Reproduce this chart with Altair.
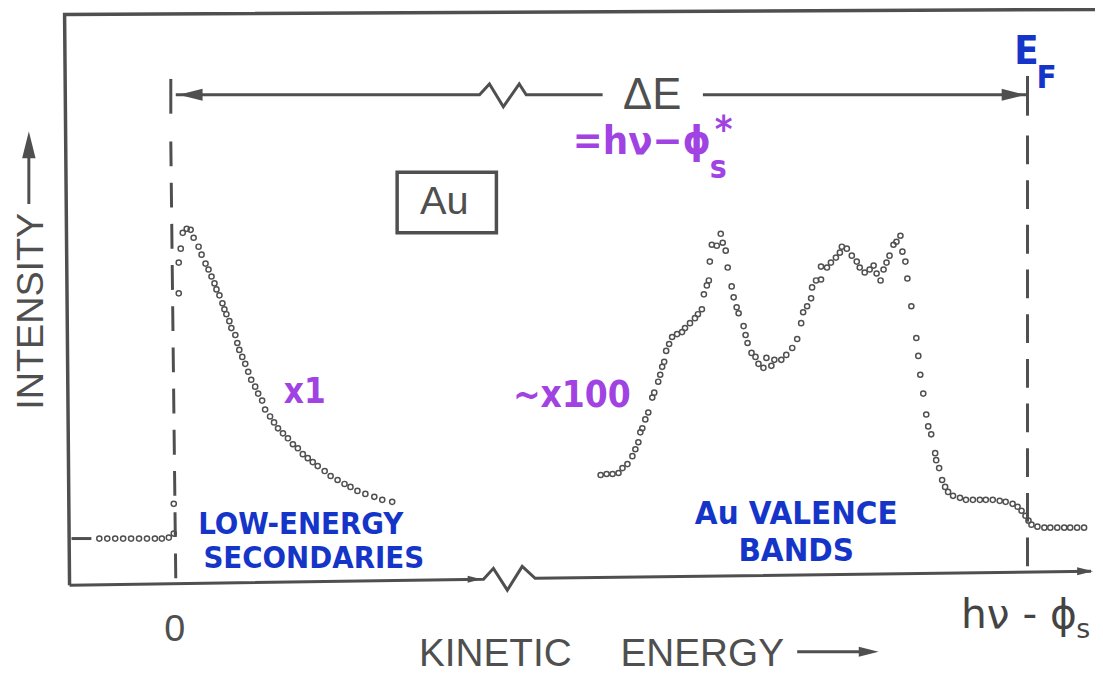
import altair as alt
import pandas as pd

# ---------------- data (E: kinetic energy, arbitrary units, 0 = cutoff, EF at 8.58;
#                         I: intensity, arbitrary units) ----------------
E_F = 8.58

# low-energy secondaries (x1)
sec_E = [-0.77, -0.69, -0.61, -0.53, -0.45, -0.37, -0.29, -0.21, -0.14, -0.07,
         -0.02, -0.02, 0.03, 0.03, 0.05,
         0.07, 0.11, 0.15, 0.18, 0.23, 0.26, 0.30, 0.33, 0.36, 0.39,
         0.41, 0.44, 0.47, 0.49, 0.51, 0.54, 0.56, 0.60, 0.62, 0.64,
         0.67, 0.70, 0.73, 0.76, 0.80, 0.83, 0.87, 0.90, 0.95, 0.99,
         1.03, 1.08, 1.13, 1.18, 1.23, 1.28, 1.33, 1.38, 1.43, 1.50,
         1.56, 1.63, 1.70, 1.76, 1.83, 1.91, 2.00, 2.08, 2.18]
sec_I = [4.0, 4.0, 4.0, 4.0, 4.0, 4.0, 4.0, 4.0, 4.0, 4.1,
         4.5, 7.5, 28.7, 31.8, 33.2,
         34.8, 35.2, 35.1, 34.3, 33.4, 32.6, 31.7, 31.1, 30.4, 29.7,
         29.1, 28.5, 27.7, 27.1, 26.6, 25.9, 25.2, 24.5, 23.7, 23.0,
         22.3, 21.6, 20.8, 20.0, 19.3, 18.6, 17.9, 17.0, 16.3, 15.7,
         15.1, 14.6, 14.1, 13.5, 13.1, 12.5, 12.1, 11.7, 11.3, 10.8,
         10.3, 9.9, 9.5, 9.2, 8.8, 8.5, 8.2, 7.9, 7.7]

# Au valence bands (~x100)
val_E = [4.28, 4.34, 4.40, 4.46, 4.50, 4.55, 4.60, 4.63, 4.66, 4.68,
         4.70, 4.73, 4.76, 4.80, 4.82, 4.86, 4.88, 4.90, 4.92, 4.94,
         4.97, 5.00, 5.05, 5.10, 5.13, 5.18, 5.23, 5.26, 5.30, 5.32,
         5.35, 5.37, 5.38, 5.40, 5.45, 5.49, 5.51, 5.54, 5.56, 5.60,
         5.62, 5.65, 5.67, 5.72, 5.74, 5.76, 5.80, 5.84, 5.87, 5.92,
         5.95, 6.00, 6.03, 6.10, 6.15, 6.21, 6.26, 6.30, 6.32, 6.36,
         6.40, 6.41, 6.45, 6.50, 6.50, 6.56, 6.60, 6.65, 6.69, 6.71,
         6.76, 6.81, 6.86, 6.89, 6.94, 6.99, 7.03, 7.06, 7.10, 7.13,
         7.16, 7.19, 7.23, 7.26, 7.30, 7.32, 7.35, 7.37, 7.41, 7.46,
         7.48, 7.50, 7.53, 7.56, 7.58, 7.61, 7.65, 7.66, 7.69, 7.72,
         7.75, 7.78, 7.83, 7.90, 7.96, 8.03, 8.10, 8.16, 8.23, 8.30,
         8.36, 8.43, 8.48, 8.52, 8.56, 8.59, 8.62, 8.68, 8.75, 8.81,
         8.88, 8.95, 9.01, 9.08, 9.15]
val_I = [10.4, 10.5, 10.5, 10.6, 11.1, 11.5, 12.3, 13.0, 13.7, 14.7,
         15.1, 16.0, 16.7, 18.2, 18.7, 19.8, 20.5, 21.3, 21.8, 22.9,
         23.6, 24.3, 24.6, 24.8, 25.2, 25.7, 26.2, 26.6, 27.1, 28.6,
         29.5, 30.0, 31.9, 33.6, 33.5, 34.7, 33.8, 33.0, 31.3, 29.4,
         28.3, 27.3, 26.7, 25.4, 24.5, 23.7, 22.7, 22.3, 21.6, 21.2,
         22.2, 21.4, 22.0, 22.0, 22.5, 23.2, 24.1, 25.7, 26.8, 27.4,
         28.2, 29.3, 30.0, 30.1, 31.4, 31.3, 31.8, 32.3, 32.8, 33.4,
         33.2, 32.5, 31.9, 31.3, 30.8, 31.1, 31.5, 30.7, 30.0, 31.1,
         31.8, 32.5, 33.6, 33.9, 34.5, 32.9, 31.9, 30.2, 27.4, 24.2,
         22.4, 20.5, 18.6, 16.5, 15.3, 14.5, 12.6, 11.9, 11.1, 9.9,
         9.2, 8.7, 8.3, 8.1, 7.9, 7.9, 7.9, 7.9, 7.9, 7.8,
         7.7, 7.5, 7.2, 6.8, 6.3, 5.8, 5.4, 5.2, 5.1, 5.1,
         5.1, 5.1, 5.1, 5.1, 5.1]
assert len(sec_E) == len(sec_I) and len(val_E) == len(val_I)

# frame (left edge and top edge of the hand drawn box)
frame_E = [-1.07, -1.12, 9.30]
frame_I = [-0.7, 56.8, 57.3]
# energy axis with the break
axis_E = [-1.07, 3.10, 3.20, 3.34, 3.49, 3.62, 9.22]
axis_I = [-0.7, -0.1, 1.0, -1.2, 1.2, 0.0, 0.7]
# Delta-E arrow with break
dE_seg = ["a", "a", "a", "a", "a", "a", "a", "b", "b"]
dE_E = [0.0, 3.06, 3.16, 3.30, 3.46, 3.53, 4.30, 5.31, E_F]
dE_I = [48.7, 48.7, 49.8, 47.5, 49.8, 48.7, 48.7, 48.7, 48.7]

# ---------------- scales ----------------
W, H = 1095, 668
X_MIN, Y_MAX = -1.69, 57.2
xs = alt.Scale(domain=[X_MIN, X_MIN + W / 100.0], nice=False, zero=False)
ys = alt.Scale(domain=[Y_MAX - H / 10.0, Y_MAX], nice=False, zero=False)
X = alt.X("E:Q", scale=xs, axis=None)
Y = alt.Y("I:Q", scale=ys, axis=None)
X2 = alt.X2("E2:Q")
Y2 = alt.Y2("I2:Q")

GRAY = "#4f4f4f"
BLUE = "#1535c8"
PURPLE = "#a043e2"
PRINT_FONT = "Liberation Sans"
HAND_FONT = "DejaVu Sans Condensed, DejaVu Sans"

RIGHT = "M1,0L-1,-0.5L-1,0.5Z"
LEFT = "M-1,0L1,-0.5L1,0.5Z"
UP = "M0,-1L-0.5,1L0.5,1Z"


def seg(E, I, E2, I2, **kw):
    df = pd.DataFrame({"E": [E], "I": [I], "E2": [E2], "I2": [I2]})
    return alt.Chart(df).mark_rule(color=GRAY, strokeWidth=3, **kw).encode(
        x=X, y=Y, x2=X2, y2=Y2)


def head(E, I, shape, size, **kw):
    df = pd.DataFrame({"E": [E], "I": [I]})
    return alt.Chart(df).mark_point(shape=shape, size=size, filled=True,
                                    color=GRAY, opacity=1, strokeWidth=0,
                                    **kw).encode(x=X, y=Y)


def label(text, E, I, **kw):
    df = pd.DataFrame({"E": [E], "I": [I], "t": [text]})
    return alt.Chart(df).mark_text(**kw).encode(x=X, y=Y, text="t:N")


layers = []

# frame and axis
frame_df = pd.DataFrame({"E": frame_E, "I": frame_I, "k": list(range(len(frame_E)))})
layers.append(alt.Chart(frame_df).mark_line(color=GRAY, strokeWidth=3.5).encode(
    x=X, y=Y, order="k:O"))
axis_df = pd.DataFrame({"E": axis_E, "I": axis_I, "k": list(range(len(axis_E)))})
layers.append(alt.Chart(axis_df).mark_line(color=GRAY, strokeWidth=3).encode(
    x=X, y=Y, order="k:O"))
layers.append(head(3.08, -0.1, RIGHT, 196, xOffset=-7))
layers.append(head(9.24, 0.7, RIGHT, 256, xOffset=-8))
# background level tick on the intensity axis
layers.append(seg(-1.05, 4.0, -0.85, 4.0))

# dashed verticals at 0 and at EF
layers.append(seg(-0.05, 44.0, 0.0, 0.0, strokeDash=[25, 16.5]))
layers.append(seg(E_F, 44.6, E_F, 0.0, strokeDash=[29, 16]))
layers.append(seg(-0.05, 50.3, -0.05, 46.8))
layers.append(seg(E_F, 50.6, E_F, 46.6))

# Delta E arrow
dE_df = pd.DataFrame({"E": dE_E, "I": dE_I, "s": dE_seg, "k": list(range(len(dE_E)))})
layers.append(alt.Chart(dE_df).mark_line(color=GRAY, strokeWidth=3).encode(
    x=X, y=Y, detail="s:N", order="k:O"))
layers.append(head(0.03, 48.7, LEFT, 576, xOffset=12))
layers.append(head(8.56, 48.7, RIGHT, 576, xOffset=-12))

# Au box
box_df = pd.DataFrame({"E": [2.23], "I": [40.9], "E2": [3.23], "I2": [34.8]})
layers.append(alt.Chart(box_df).mark_rect(fill="white", fillOpacity=0, stroke=GRAY,
                                          strokeWidth=3.5).encode(x=X, y=Y, x2=X2, y2=Y2))

# spectra
pts = pd.DataFrame({"E": sec_E + val_E, "I": sec_I + val_I})
layers.append(alt.Chart(pts).mark_point(filled=False, size=27, strokeWidth=1.5,
                                        color="#505050", opacity=1).encode(x=X, y=Y))

# intensity / kinetic energy arrows
layers.append(seg(-1.48, 37.7, -1.48, 44.0))
layers.append(head(-1.48, 45.0, UP, 729, yOffset=13.5))
layers.append(seg(6.26, -7.4, 6.95, -7.4))
layers.append(head(7.08, -7.4, RIGHT, 400, xOffset=-10))

# printed labels
layers.append(label("INTENSITY", -1.45, 26.9, angle=270, align="center", baseline="middle",
                    font=PRINT_FONT, fontSize=38, color=GRAY))
layers.append(label("ΔE", 4.80, 47.3, align="center", baseline="alphabetic",
                    font=PRINT_FONT, fontSize=44, color=GRAY))
layers.append(label("Au", 2.705, 36.7, align="center", baseline="alphabetic",
                    font=PRINT_FONT, fontSize=40, color=GRAY))
layers.append(label("0", -0.01, -6.3, align="center", baseline="alphabetic",
                    font=PRINT_FONT, fontSize=38, color=GRAY))
layers.append(label("KINETIC", 2.45, -8.8, align="left", baseline="alphabetic",
                    font=PRINT_FONT, fontSize=39, color=GRAY))
layers.append(label("ENERGY", 4.48, -8.8, align="left", baseline="alphabetic",
                    font=PRINT_FONT, fontSize=39, color=GRAY))
layers.append(label("hν - ϕ", 7.91, -5.0, align="left", baseline="alphabetic",
                    font="DejaVu Sans", fontSize=41, color="#444444"))
layers.append(label("s", 9.07, -6.0, align="left", baseline="alphabetic",
                    font="DejaVu Sans", fontSize=27, color="#444444"))

# purple annotations
layers.append(label("=hν−ϕ", 4.00, 42.7, align="left", baseline="alphabetic",
                    font=HAND_FONT, fontWeight="bold", fontSize=40, color=PURPLE))
layers.append(label("s", 5.38, 40.3, align="left", baseline="alphabetic",
                    font=HAND_FONT, fontWeight="bold", fontSize=32, color=PURPLE))
layers.append(label("*", 5.52, 43.9, align="center", baseline="alphabetic",
                    font=HAND_FONT, fontWeight="bold", fontSize=38, color=PURPLE))
layers.append(label("x1", 1.30, 17.7, align="center", baseline="alphabetic",
                    font=HAND_FONT, fontWeight="bold", fontSize=35, color=PURPLE))
layers.append(label("~x100", 3.99, 17.3, align="center", baseline="alphabetic",
                    font=HAND_FONT, fontWeight="bold", fontSize=37, color=PURPLE))

# blue annotations
layers.append(label("LOW-ENERGY", 1.26, 4.5, align="center", baseline="alphabetic",
                    font=HAND_FONT, fontWeight="bold", fontSize=31, color=BLUE))
layers.append(label("SECONDARIES", 1.39, 1.0, align="center", baseline="alphabetic",
                    font=HAND_FONT, fontWeight="bold", fontSize=31, color=BLUE))
layers.append(label("Au VALENCE", 6.25, 5.5, align="center", baseline="alphabetic",
                    font=HAND_FONT, fontWeight="bold", fontSize=33, color=BLUE))
layers.append(label("BANDS", 6.25, 1.7, align="center", baseline="alphabetic",
                    font=HAND_FONT, fontWeight="bold", fontSize=33, color=BLUE))
layers.append(label("E", 8.57, 51.8, align="center", baseline="alphabetic",
                    font=HAND_FONT, fontWeight="bold", fontSize=40, color=BLUE))
layers.append(label("F", 8.67, 49.4, align="left", baseline="alphabetic",
                    font=HAND_FONT, fontWeight="bold", fontSize=33, color=BLUE))

chart = alt.layer(*layers).properties(
    width=W, height=H, padding=0,
    autosize=alt.AutoSizeParams(type="none"),
    background="white",
).configure_view(stroke=None)

chart.save("out.html", embed_options={"renderer": "svg", "actions": False})
